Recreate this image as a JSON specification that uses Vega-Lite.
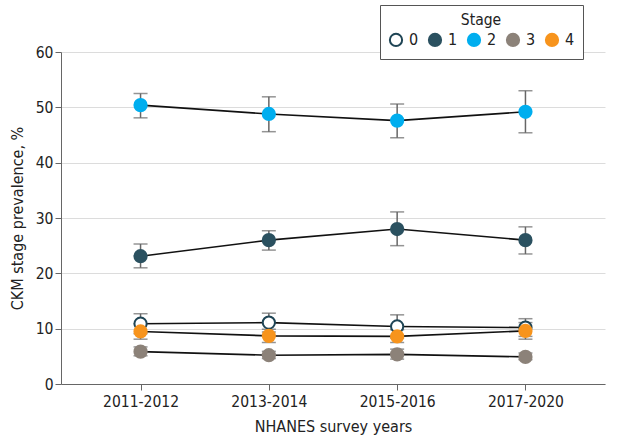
{
  "$schema": "https://vega.github.io/schema/vega-lite/v6.json",
  "width": 544,
  "height": 332,
  "autosize": {"type": "none"},
  "padding": {"left": 61, "top": 52, "right": 29, "bottom": 62},
  "background": "white",
  "config": {
    "view": {"stroke": null},
    "font": "DejaVu Sans Condensed",
    "axis": {"labelFont": "DejaVu Sans Condensed", "titleFont": "DejaVu Sans Condensed", "labelFontSize": 15.5, "titleFontSize": 16, "labelColor": "#222", "titleColor": "#222", "titleFontWeight": "normal", "domainColor": "#666", "tickColor": "#666"},
    "legend": {"labelFont": "DejaVu Sans Condensed", "titleFont": "DejaVu Sans Condensed"}
  },
  "data": {
    "values": [
      {"year": "2011-2012", "stage": "0", "value": 10.9, "lo": 9.1, "hi": 12.7},
      {"year": "2013-2014", "stage": "0", "value": 11.1, "lo": 9.4, "hi": 12.8},
      {"year": "2015-2016", "stage": "0", "value": 10.4, "lo": 8.3, "hi": 12.5},
      {"year": "2017-2020", "stage": "0", "value": 10.2, "lo": 8.6, "hi": 11.8},
      {"year": "2011-2012", "stage": "1", "value": 23.1, "lo": 21.0, "hi": 25.3},
      {"year": "2013-2014", "stage": "1", "value": 26.0, "lo": 24.2, "hi": 27.7},
      {"year": "2015-2016", "stage": "1", "value": 28.0, "lo": 25.0, "hi": 31.1},
      {"year": "2017-2020", "stage": "1", "value": 26.0, "lo": 23.5, "hi": 28.4},
      {"year": "2011-2012", "stage": "2", "value": 50.4, "lo": 48.1, "hi": 52.5},
      {"year": "2013-2014", "stage": "2", "value": 48.8, "lo": 45.6, "hi": 51.9},
      {"year": "2015-2016", "stage": "2", "value": 47.6, "lo": 44.5, "hi": 50.6},
      {"year": "2017-2020", "stage": "2", "value": 49.2, "lo": 45.4, "hi": 53.0},
      {"year": "2011-2012", "stage": "3", "value": 5.85, "lo": 5.1, "hi": 6.7},
      {"year": "2013-2014", "stage": "3", "value": 5.2, "lo": 4.6, "hi": 5.9},
      {"year": "2015-2016", "stage": "3", "value": 5.35, "lo": 4.5, "hi": 6.3},
      {"year": "2017-2020", "stage": "3", "value": 4.9, "lo": 4.4, "hi": 5.6},
      {"year": "2011-2012", "stage": "4", "value": 9.5, "lo": 8.1, "hi": 10.9},
      {"year": "2013-2014", "stage": "4", "value": 8.7, "lo": 7.5, "hi": 9.9},
      {"year": "2015-2016", "stage": "4", "value": 8.6, "lo": 7.5, "hi": 9.8},
      {"year": "2017-2020", "stage": "4", "value": 9.6, "lo": 8.1, "hi": 11.1}
    ]
  },
  "encoding": {
    "x": {
      "field": "year", "type": "ordinal",
      "sort": ["2011-2012", "2013-2014", "2015-2016", "2017-2020"],
      "scale": {"type": "point", "padding": 0.62},
      "axis": {"title": "NHANES survey years", "labelAngle": 0, "tickSize": 6, "labelPadding": 4, "titlePadding": 9, "grid": false}
    }
  },
  "layer": [
    {
      "mark": {"type": "rule", "color": "#666", "strokeWidth": 1.5},
      "encoding": {
        "y": {"field": "lo", "type": "quantitative"},
        "y2": {"field": "hi"}
      }
    },
    {
      "mark": {"type": "tick", "color": "#666", "size": 14, "thickness": 1.5},
      "encoding": {"y": {"field": "lo", "type": "quantitative"}}
    },
    {
      "mark": {"type": "tick", "color": "#666", "size": 14, "thickness": 1.5},
      "encoding": {"y": {"field": "hi", "type": "quantitative"}}
    },
    {
      "mark": {"type": "line", "color": "#111", "strokeWidth": 1.6},
      "encoding": {
        "y": {"field": "value", "type": "quantitative"},
        "detail": {"field": "stage"}
      }
    },
    {
      "mark": {"type": "circle", "size": 150, "opacity": 1, "strokeWidth": 2},
      "encoding": {
        "y": {
          "field": "value", "type": "quantitative",
          "scale": {"domain": [0, 60]},
          "axis": {"title": "CKM stage prevalence, %", "values": [0, 10, 20, 30, 40, 50, 60], "grid": true, "gridColor": "#dcdcdc", "tickSize": 6, "titlePadding": 10}
        },
        "fill": {
          "field": "stage", "type": "nominal",
          "scale": {"domain": ["0", "1", "2", "3", "4"], "range": ["#ffffff", "#2b5160", "#00aeef", "#8c8279", "#f7941d"]},
          "legend": {
            "title": "Stage", "orient": "none", "legendX": 319, "legendY": -47,
            "direction": "horizontal", "titleAnchor": "middle", "titleFontSize": 15.5, "titleFontWeight": "normal", "titleColor": "#222",
            "labelFontSize": 16, "labelColor": "#222", "symbolSize": 150, "symbolStrokeWidth": 2, "columnPadding": 5,
            "strokeColor": "#555", "fillColor": "white", "padding": 8, "labelOffset": 5, "titlePadding": 3
          }
        },
        "stroke": {
          "field": "stage", "type": "nominal",
          "scale": {"domain": ["0", "1", "2", "3", "4"], "range": ["#1f4555", "#2b5160", "#00aeef", "#8c8279", "#f7941d"]},
          "legend": null
        }
      }
    }
  ]
}
